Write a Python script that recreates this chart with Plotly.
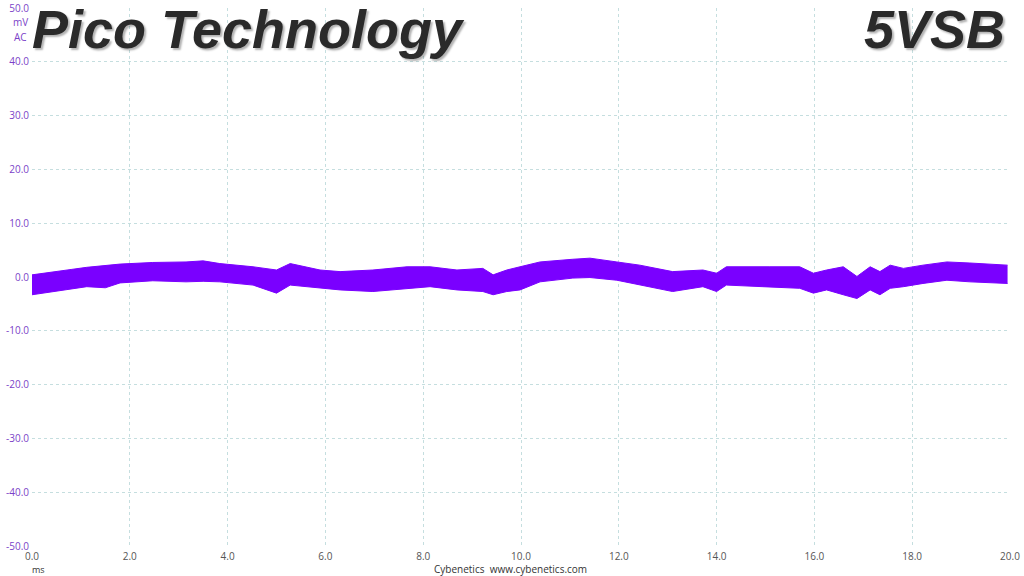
import plotly.graph_objects as go

# Time axis (ms) and envelope of the ripple band (mV)
time_ms = [0.0, 0.43, 0.8, 1.12, 1.5, 1.8, 2.47, 3.15, 3.5, 3.84,
           4.52, 5.0, 5.28, 5.89, 6.3, 6.97, 7.67, 8.14, 8.69, 9.22,
           9.43, 9.71, 9.98, 10.39, 11.06, 11.41, 11.96, 12.43, 13.1, 13.72,
           14.0, 14.2, 15.09, 15.7, 15.98, 16.25, 16.59, 16.87, 17.14, 17.34,
           17.55, 17.82, 18.22, 18.71, 19.18, 19.95]
upper_mv = [0.4, 1.0, 1.4, 1.8, 2.1, 2.4, 2.7, 2.8, 3.0, 2.5,
            1.9, 1.3, 2.5, 1.3, 1.0, 1.3, 1.9, 1.9, 1.3, 1.6,
            0.4, 1.3, 1.9, 2.8, 3.3, 3.5, 2.8, 2.2, 1.0, 1.3,
            0.7, 1.9, 1.9, 1.9, 0.7, 1.3, 1.9, 0.1, 1.9, 1.0,
            2.2, 1.6, 2.2, 2.8, 2.6, 2.2]
lower_mv = [-3.3, -2.7, -2.2, -1.8, -2.0, -1.1, -0.7, -0.9, -0.8, -0.9,
            -1.5, -3.0, -1.5, -2.1, -2.4, -2.7, -2.1, -1.8, -2.4, -2.7,
            -3.3, -2.7, -2.4, -0.9, -0.2, -0.1, -0.6, -1.5, -2.7, -1.8,
            -2.7, -1.5, -1.8, -2.1, -3.0, -2.4, -3.3, -4.0, -2.4, -3.3,
            -2.1, -1.8, -1.2, -0.6, -0.9, -1.2]

x_ticks = [0, 2, 4, 6, 8, 10, 12, 14, 16, 18, 20]
x_tick_labels = ["0.0", "2.0", "4.0", "6.0", "8.0", "10.0", "12.0", "14.0", "16.0", "18.0", "20.0"]
y_ticks = [50, 40, 30, 20, 10, 0, -10, -20, -30, -40, -50]
y_tick_labels = ["50.0", "40.0", "30.0", "20.0", "10.0", "0.0", "-10.0", "-20.0", "-30.0", "-40.0", "-50.0"]

trace_color = "#7A00FF"
grid_color = "#C5DEDF"
ylab_color = "#7B3FC8"

fig = go.Figure()
fig.add_trace(go.Scatter(x=time_ms, y=lower_mv, mode="lines",
                         line=dict(color=trace_color, width=1), showlegend=False,
                         hoverinfo="skip"))
fig.add_trace(go.Scatter(x=time_ms, y=upper_mv, mode="lines", fill="tonexty",
                         fillcolor=trace_color,
                         line=dict(color=trace_color, width=1), showlegend=False,
                         hoverinfo="skip"))

fig.update_layout(
    width=1024, height=576,
    margin=dict(l=32, r=14, t=8, b=30),
    paper_bgcolor="white", plot_bgcolor="white",
    font=dict(family="Open Sans, Noto Sans, sans-serif", size=10, color="#555555"),
    xaxis=dict(range=[0, 20], tickvals=x_ticks, ticktext=x_tick_labels, automargin=False,
               showgrid=True, gridcolor=grid_color, griddash="3px,3px", gridwidth=1,
               zeroline=False, showline=False, ticks="", ticklabelstandoff=3,
               tickfont=dict(size=10, color="#555555")),
    yaxis=dict(range=[-50, 50], tickvals=y_ticks, ticktext=y_tick_labels, automargin=False,
               showgrid=True, gridcolor=grid_color, griddash="3px,3px", gridwidth=1,
               zeroline=False, showline=False, ticks="", ticklabelstandoff=2,
               tickfont=dict(size=10, color=ylab_color)),
)

title_font = dict(family="Liberation Sans, Arial, sans-serif", size=54, color="#2a2a2a",
                  weight="bold", style="italic", shadow="2px 2px 2px rgba(0,0,0,0.3)")
fig.add_annotation(text="Pico Technology", xref="paper", yref="paper",
                   x=-0.002, y=(546 - 29) / 538, xanchor="left", yanchor="middle",
                   showarrow=False, font=title_font)
fig.add_annotation(text="5VSB", xref="paper", yref="paper",
                   x=0.997, y=(546 - 29) / 538, xanchor="right", yanchor="middle",
                   showarrow=False, font=title_font)

fig.add_annotation(text="mV", xref="paper", yref="paper", x=-0.0115, y=(546 - 22) / 538,
                   xanchor="center", yanchor="middle", showarrow=False,
                   font=dict(size=10, color=ylab_color))
fig.add_annotation(text="AC", xref="paper", yref="paper", x=-0.0115, y=(546 - 37) / 538,
                   xanchor="center", yanchor="middle", showarrow=False,
                   font=dict(size=10, color=ylab_color))
fig.add_annotation(text="ms", xref="paper", yref="paper", x=(38 - 32) / 978, y=(546 - 569) / 538,
                   xanchor="center", yanchor="middle", showarrow=False,
                   font=dict(size=9, color="#333333"))
fig.add_annotation(text="Cybenetics&nbsp;&nbsp;www.cybenetics.com", xref="paper", yref="paper",
                   x=(510 - 32) / 978, y=(546 - 569) / 538,
                   xanchor="center", yanchor="middle", showarrow=False,
                   font=dict(size=10, color="#333333"))

fig.write_html("out.html", config={"displayModeBar": False},
               post_script="document.body.style.margin='0';document.body.style.padding='0';")
